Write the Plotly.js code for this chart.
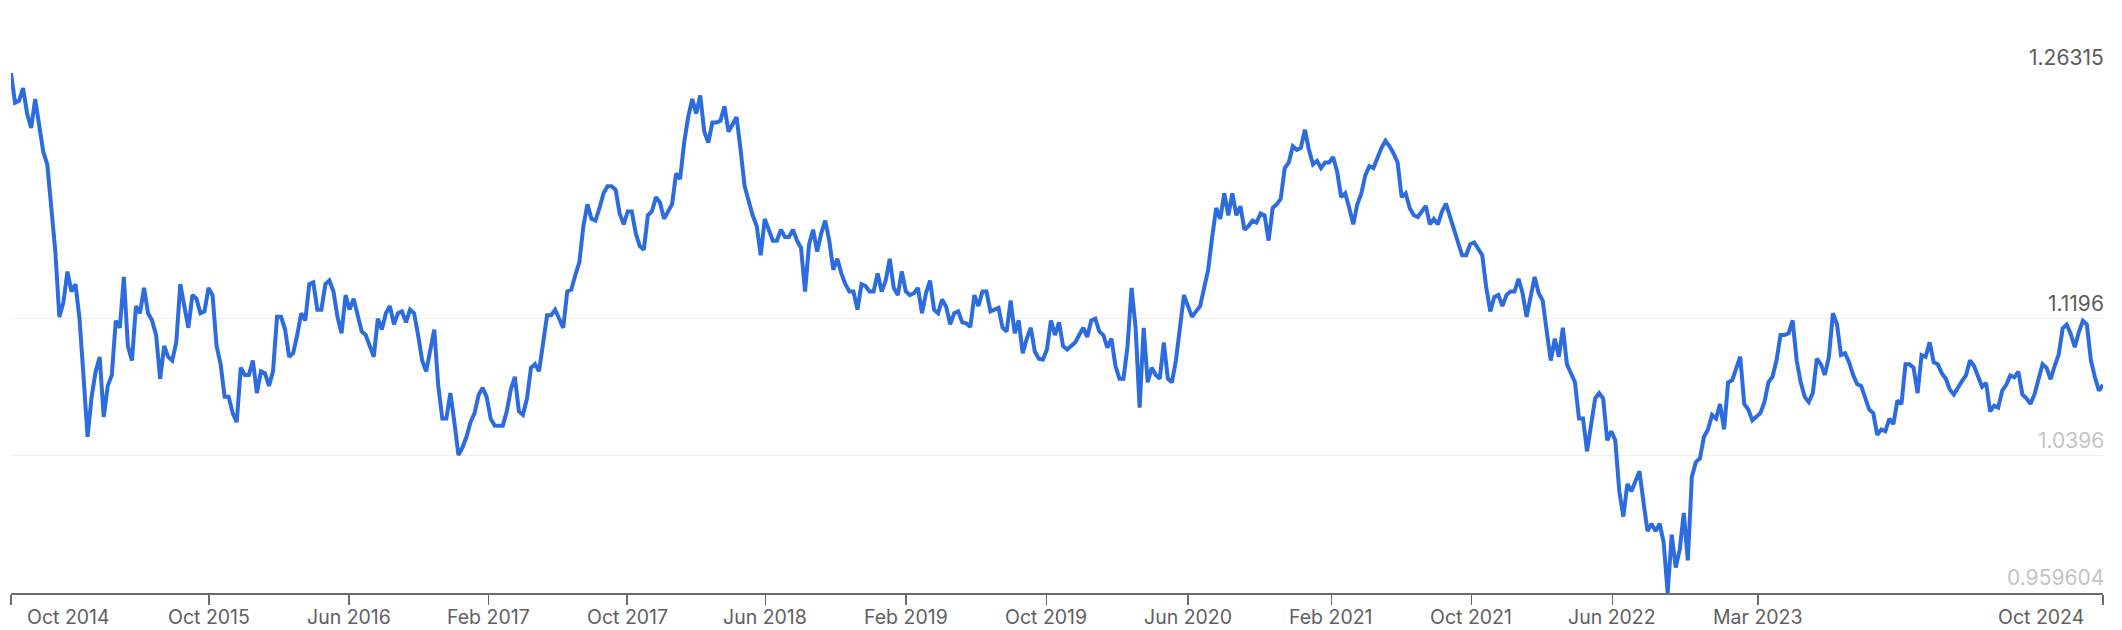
<!DOCTYPE html>
<html>
<head>
<meta charset="utf-8">
<script src="https://cdn.plot.ly/plotly-3.0.1.min.js"></script>
<style>
  html, body { margin: 0; padding: 0; background: #ffffff; }
  #chart { width: 2122px; height: 630px; }
</style>
</head>
<body>
<div id="chart"></div>
<script>
// Weekly closing rate, one value per week starting at startDate
const startDate = '2014-10-22';
const endDate = '2024-10-02';
const stepDays = 7;

const weeklyRate = [
  1.26315, 1.2458, 1.2469, 1.2543, 1.2395, 1.2310, 1.2479, 1.2331, 1.2172, 1.2098, 1.1822, 1.1589, 1.1207, 1.1292,
  1.1472, 1.1356, 1.1398, 1.1197, 1.0858, 1.0508, 1.0741, 1.0889, 1.0974, 1.0624, 1.0805, 1.0868, 1.1186, 1.1144,
  1.1441, 1.1038, 1.0953, 1.1271, 1.1229, 1.1377, 1.1229, 1.1186, 1.1101, 1.0847, 1.1038, 1.0974, 1.0953, 1.1059,
  1.1399, 1.1271, 1.1144, 1.1335, 1.1314, 1.1229, 1.1240, 1.1377, 1.1335, 1.1038, 1.0932, 1.0741, 1.0741, 1.0646,
  1.0593, 1.0911, 1.0869, 1.0869, 1.0953, 1.0763, 1.0890, 1.0879, 1.0805, 1.0890, 1.1208, 1.1208, 1.1134, 1.0975,
  1.0996, 1.1102, 1.1229, 1.1187, 1.1399, 1.1409, 1.1250, 1.1250, 1.1399, 1.1420, 1.1356, 1.1208, 1.1112, 1.1335,
  1.1250, 1.1314,
  1.1229, 1.1123, 1.1102, 1.1038, 1.0975, 1.1197, 1.1134, 1.1229, 1.1271, 1.1165, 1.1229, 1.1240, 1.1176, 1.1250,
  1.1229, 1.1102, 1.0953, 1.0890, 1.1017, 1.1134, 1.0805, 1.0614, 1.0614, 1.0763, 1.0593, 1.0402, 1.0445, 1.0508,
  1.0593, 1.0646, 1.0752, 1.0794, 1.0741, 1.0614, 1.0572, 1.0572, 1.0572, 1.0657, 1.0784, 1.0858, 1.0657, 1.0636,
  1.0731, 1.0911,
  1.0932, 1.0890, 1.1059, 1.1218, 1.1218, 1.1250, 1.1197, 1.1144, 1.1356, 1.1367, 1.1452, 1.1526, 1.1738, 1.1865,
  1.1780, 1.1770, 1.1844, 1.1929, 1.1971, 1.1971, 1.1950, 1.1812, 1.1748, 1.1823, 1.1823, 1.1695, 1.1621, 1.1600,
  1.1801, 1.1823, 1.1907, 1.1876, 1.1780, 1.1823, 1.1865, 1.2045, 1.2013, 1.2225, 1.2374, 1.2480, 1.2395, 1.2501,
  1.2289, 1.2225,
  1.2342, 1.2342, 1.2353, 1.2437, 1.2289, 1.2331, 1.2374, 1.2183, 1.1971, 1.1886, 1.1801, 1.1738, 1.1568, 1.1780,
  1.1717, 1.1653, 1.1653, 1.1717, 1.1674, 1.1674, 1.1717, 1.1653, 1.1611, 1.1356, 1.1632, 1.1717, 1.1589, 1.1695,
  1.1770, 1.1653, 1.1483, 1.1547, 1.1462, 1.1399, 1.1356, 1.1356, 1.1250, 1.1399, 1.1388, 1.1356, 1.1356, 1.1462,
  1.1356, 1.1420,
  1.1547, 1.1377, 1.1335, 1.1473, 1.1356, 1.1335, 1.1346, 1.1377, 1.1229, 1.1346, 1.1420, 1.1250, 1.1229, 1.1310,
  1.1267, 1.1165, 1.1229, 1.1240, 1.1176, 1.1170, 1.1149, 1.1335, 1.1271, 1.1356, 1.1356, 1.1240, 1.1250, 1.1261,
  1.1144, 1.1123, 1.1303, 1.1112, 1.1187, 1.0996, 1.1081, 1.1144, 1.1006, 1.0964, 1.0958, 1.1017, 1.1187, 1.1102,
  1.1176, 1.1038,
  1.1017, 1.1038, 1.1059, 1.1102, 1.1144, 1.1091, 1.1187, 1.1197, 1.1123, 1.1102, 1.1028, 1.1081, 1.0922, 1.0847,
  1.0847, 1.1038, 1.1377, 1.1144, 1.0678, 1.1144, 1.0826, 1.0911, 1.0869, 1.0847, 1.1059, 1.0847, 1.0826, 1.0953,
  1.1144, 1.1335, 1.1271, 1.1208, 1.1240, 1.1271, 1.1377, 1.1483, 1.1674, 1.1844, 1.1780, 1.1929, 1.1801, 1.1929,
  1.1801, 1.1854,
  1.1717, 1.1738, 1.1770, 1.1759, 1.1812, 1.1801, 1.1653, 1.1844, 1.1865, 1.1897, 1.2077, 1.2109, 1.2204, 1.2183,
  1.2194, 1.2300, 1.2183, 1.2098, 1.2119, 1.2077, 1.2109, 1.2109, 1.2141, 1.2056, 1.1907, 1.1929, 1.1844, 1.1748,
  1.1865, 1.1929, 1.2035, 1.2088, 1.2077, 1.2141, 1.2194, 1.2236, 1.2204, 1.2162, 1.2109, 1.1907, 1.1929, 1.1844,
  1.1801, 1.1791,
  1.1823, 1.1855, 1.1748, 1.1780, 1.1748, 1.1823, 1.1869, 1.1801, 1.1717, 1.1642, 1.1568, 1.1568, 1.1632, 1.1642,
  1.1600, 1.1568, 1.1377, 1.1240, 1.1324, 1.1335, 1.1271, 1.1335, 1.1356, 1.1356, 1.1430, 1.1346, 1.1208, 1.1314,
  1.1441, 1.1346, 1.1303, 1.1123, 1.0953, 1.1081, 1.0975, 1.1144, 1.0932, 1.0879, 1.0826, 1.0614, 1.0614, 1.0423,
  1.0582, 1.0731,
  1.0763, 1.0731, 1.0487, 1.0540, 1.0487, 1.0190, 1.0042, 1.0233, 1.0190, 1.0254, 1.0307, 1.0127, 0.9957, 1.0000,
  0.9957, 1.0000, 0.9893, 0.959604, 0.9936, 0.9745, 0.9851, 1.0063, 0.9787, 1.0275, 1.0360, 1.0381, 1.0508, 1.0551,
  1.0636, 1.0614, 1.0699, 1.0551, 1.0826, 1.0837, 1.0911, 1.0975, 1.0699, 1.0667, 1.0604, 1.0625, 1.0646, 1.0710,
  1.0826, 1.0858,
  1.0953, 1.1102, 1.1102, 1.1112, 1.1187, 1.0953, 1.0826, 1.0741, 1.0710, 1.0763, 1.0964, 1.0932, 1.0869, 1.0975,
  1.1229, 1.1165, 1.0985, 1.0996, 1.0943, 1.0869, 1.0816, 1.0805, 1.0731, 1.0667, 1.0646, 1.0519, 1.0551, 1.0540,
  1.0614, 1.0582, 1.0720, 1.0699, 1.0932, 1.0932, 1.0911, 1.0763, 1.0985, 1.0975, 1.1059, 1.0943, 1.0932, 1.0879,
  1.0847, 1.0784,
  1.0755, 1.0800, 1.0833, 1.0866, 1.0954, 1.0921, 1.0855, 1.0800, 1.0822, 1.0656, 1.0689, 1.0678, 1.0777, 1.0811,
  1.0866, 1.0855, 1.0888, 1.0755, 1.0733, 1.0700, 1.0755, 1.0855, 1.0932, 1.0910, 1.0844, 1.0921, 1.0987, 1.1141,
  1.1163, 1.1108, 1.1031, 1.1119, 1.1185, 1.1163, 1.0954, 1.0855, 1.0777, 1.0811
];

const xTickDates = ['2014-10-22', '2015-10-01', '2016-05-31', '2017-01-28', '2017-09-26', '2018-05-24', '2019-01-23',
  '2019-09-24', '2020-05-27', '2021-01-31', '2021-10-01', '2022-06-03', '2023-02-11', '2024-10-02'];
const xTickLabels = ['', 'Oct 2015', 'Jun 2016', 'Feb 2017', 'Oct 2017', 'Jun 2018', 'Feb 2019',
  'Oct 2019', 'Jun 2020', 'Feb 2021', 'Oct 2021', 'Jun 2022', 'Mar 2023', ''];
const edgeLabels = ['Oct 2014', 'Oct 2024'];

const yTickValues = [1.26315, 1.1196, 1.0396, 0.959604];
const yTickLabels = ['1.26315', '1.1196', '1.0396', '0.959604'];

// ---- build ----
const t0 = Date.parse(startDate + 'T00:00:00Z');
const dates = weeklyRate.map((_, i) => new Date(t0 + i * stepDays * 86400000).toISOString().slice(0, 10));

const FONT = 'Inter, Roboto, "Noto Sans", sans-serif';
const yLabelColors = ['#5c5c5c', '#5c5c5c', '#c4c4c4', '#c4c4c4'];
const XFS = 19.5, YFS = 21;

const annotations = yTickValues.map((v, i) => ({
  xref: 'paper', x: 1, xanchor: 'right', xshift: 3,
  yref: 'y', y: v, yanchor: 'bottom', yshift: 1,
  text: yTickLabels[i], showarrow: false,
  font: { family: FONT, size: YFS, color: yLabelColors[i] }
}));
// x labels placed as annotations so their vertical position can be set exactly
xTickDates.forEach((d, i) => {
  if (!xTickLabels[i]) return;
  annotations.push({
    xref: 'x', x: d, xanchor: 'center',
    yref: 'paper', y: 0, yanchor: 'top', yshift: -10,
    text: xTickLabels[i], showarrow: false,
    font: { family: FONT, size: XFS, color: '#606060' }
  });
});
annotations.push({
  xref: 'paper', x: 0, xanchor: 'left', xshift: 14,
  yref: 'paper', y: 0, yanchor: 'top', yshift: -10,
  text: edgeLabels[0], showarrow: false,
  font: { family: FONT, size: XFS, color: '#606060' }
});
annotations.push({
  xref: 'paper', x: 1, xanchor: 'right', xshift: -17,
  yref: 'paper', y: 0, yanchor: 'top', yshift: -10,
  text: edgeLabels[1], showarrow: false,
  font: { family: FONT, size: XFS, color: '#606060' }
});

const trace = {
  type: 'scatter', mode: 'lines',
  x: dates, y: weeklyRate,
  line: { color: '#2d6cdf', width: 4 },
  hoverinfo: 'skip'
};

const layout = {
  width: 2122, height: 630,
  margin: { l: 11, r: 19, t: 73, b: 37, pad: 0 },
  paper_bgcolor: '#ffffff', plot_bgcolor: '#ffffff',
  showlegend: false,
  font: { family: FONT, size: XFS, color: '#606060' },
  xaxis: {
    type: 'date',
    range: [startDate, endDate],
    showgrid: false, zeroline: false,
    showline: true, linecolor: '#6b6b6b', linewidth: 1.5,
    ticks: 'outside', ticklen: 10, tickwidth: 1.5, tickcolor: '#6b6b6b',
    tickmode: 'array', tickvals: xTickDates,
    showticklabels: false,
    fixedrange: true
  },
  yaxis: {
    range: [0.959604, 1.26315],
    tickmode: 'array', tickvals: yTickValues,
    showticklabels: false, ticks: '',
    showgrid: true, gridcolor: '#f0f0f0', gridwidth: 1,
    zeroline: false, showline: false,
    fixedrange: true
  },
  annotations: annotations
};

Plotly.newPlot('chart', [trace], layout, { displayModeBar: false, staticPlot: true });
</script>
</body>
</html>
